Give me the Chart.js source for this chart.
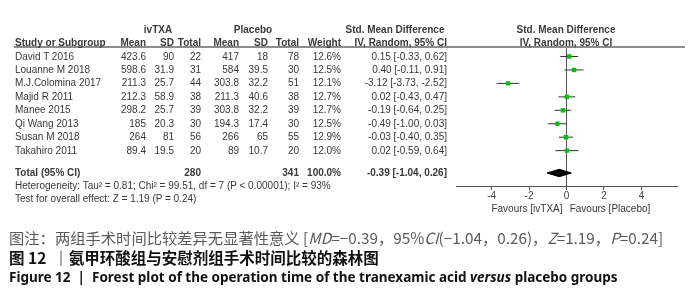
<!DOCTYPE html>
<html>
<head>
<meta charset="utf-8">
<script src="https://cdn.jsdelivr.net/npm/chart.js@4.4.1/dist/chart.umd.min.js"></script>
<style>
  html, body { margin: 0; padding: 0; background: #fff; }
  #wrap { position: relative; width: 700px; height: 296px; overflow: hidden; font-family: 'Liberation Sans', Arial, sans-serif; }
  #plot { position: absolute; left: 0; top: 0; }
  .t { position: absolute; white-space: nowrap; font-size: 10px; line-height: 12px; color: #383838; }
  .b { font-weight: bold; color: #3a3a3a; }
  .cap { position: absolute; left: 9px; white-space: nowrap; transform: translateY(-50%); }
  #hline { position: absolute; left: 14px; top: 46px; width: 671px; height: 2px; background: #8c8c8c; }
</style>
</head>
<body>
<div id="wrap">
  <canvas id="plot" width="700" height="222"></canvas>
  <div id="hline"></div>
  <div id="table"></div>
  <div class="cap" style="top:237px; font-size:15.3px; color:#5a5a5a; font-family:'Noto Sans CJK SC', 'Liberation Sans', sans-serif;">图注：两组手术时间比较差异无显著性意义 [<i>MD</i>=−0.39，95%<i>CI</i>(−1.04，0.26)，<i>Z</i>=1.19，<i>P</i>=0.24]</div>
  <div class="cap" style="top:257px; font-size:15.5px; font-weight:bold; color:#111; font-family:'Noto Sans CJK SC', sans-serif;">图 12 &nbsp;｜氨甲环酸组与安慰剂组手术时间比较的森林图</div>
  <div class="cap" style="top:277px; font-size:13.5px; font-weight:bold; color:#111; font-family:'Noto Sans', sans-serif;">Figure 12 &nbsp;|&nbsp; Forest plot of the operation time of the tranexamic acid <i>versus</i> placebo groups</div>
</div>
<script>
// 연구별 데이터
const studies = ['David T 2016', 'Louanne M 2018', 'M.J.Colomina 2017', 'Majid R  2011', 'Manee 2015', 'Qi Wang 2013', 'Susan M 2018', 'Takahiro 2011'];
const txaMean = [423.6, 598.6, 211.3, 212.3, 298.2, 185, 264, 89.4];
const txaSD = [90, 31.9, 25.7, 58.9, 25.7, 20.3, 81, 19.5];
const txaN = [22, 31, 44, 38, 39, 30, 56, 20];
const plaMean = [417, 584, 303.8, 211.3, 303.8, 194.3, 266, 89];
const plaSD = [18, 39.5, 32.2, 40.6, 32.2, 17.4, 65, 10.7];
const plaN = [78, 30, 51, 38, 39, 30, 55, 20];
const weights = [12.6, 12.5, 12.1, 12.7, 12.7, 12.5, 12.9, 12.0];
const smd = [0.15, 0.40, -3.12, 0.02, -0.19, -0.49, -0.03, 0.02];
const ciLow = [-0.33, -0.11, -3.73, -0.43, -0.64, -1.00, -0.40, -0.59];
const ciHigh = [0.62, 0.91, -2.52, 0.47, 0.25, 0.03, 0.35, 0.64];

// 합계 (Total)
const totalTxa = 280;
const totalPla = 341;
const totalSmd = -0.39;
const totalLow = -1.04;
const totalHigh = 0.26;

const xTicks = [-4, -2, 0, 2, 4];

// 레이아웃
const ROW0 = 56.5;    // 첫 행 y
const PITCH = 13.45;  // 행 간격
const AREA_TOP = 47;
const AREA_BOTTOM = 186;
const TOTAL_Y = 173;

const table = document.getElementById('table');

function addText(txt, x, y, align, bold) {
  const d = document.createElement('div');
  d.className = bold ? 't b' : 't';
  d.textContent = txt;
  d.style.top = y + 'px';
  if (align === 'right') {
    d.style.right = (700 - x) + 'px';
    d.style.transform = 'translateY(-50%)';
  } else if (align === 'center') {
    d.style.left = x + 'px';
    d.style.transform = 'translate(-50%, -50%)';
  } else {
    d.style.left = x + 'px';
    d.style.transform = 'translateY(-50%)';
  }
  table.appendChild(d);
}

// 컬럼 오른쪽 끝 위치
const COL = { mean1: 146, sd1: 174, n1: 201, mean2: 239, sd2: 268, n2: 299, w: 341, ci: 447 };
const f2 = v => v.toFixed(2);

// 헤더
addText('ivTXA', 158, 30, 'center', true);
addText('Placebo', 253, 30, 'center', true);
addText('Std. Mean Difference', 395, 30, 'center', true);
addText('Std. Mean Difference', 566, 30, 'center', true);
addText('Study or Subgroup', 15, 43, 'left', true);
addText('Mean', COL.mean1, 43, 'right', true);
addText('SD', COL.sd1, 43, 'right', true);
addText('Total', COL.n1, 43, 'right', true);
addText('Mean', COL.mean2, 43, 'right', true);
addText('SD', COL.sd2, 43, 'right', true);
addText('Total', COL.n2, 43, 'right', true);
addText('Weight', COL.w, 43, 'right', true);
addText('IV, Random, 95% CI', COL.ci, 43, 'right', true);
addText('IV, Random, 95% CI', 566, 43, 'center', true);

// 연구별 행
studies.forEach((name, i) => {
  const y = ROW0 + i * PITCH;
  addText(name, 15, y, 'left');
  addText(String(txaMean[i]), COL.mean1, y, 'right');
  addText(String(txaSD[i]), COL.sd1, y, 'right');
  addText(String(txaN[i]), COL.n1, y, 'right');
  addText(String(plaMean[i]), COL.mean2, y, 'right');
  addText(String(plaSD[i]), COL.sd2, y, 'right');
  addText(String(plaN[i]), COL.n2, y, 'right');
  addText(weights[i].toFixed(1) + '%', COL.w, y, 'right');
  addText(f2(smd[i]) + ' [' + f2(ciLow[i]) + ', ' + f2(ciHigh[i]) + ']', COL.ci, y, 'right');
});

// 합계 행
addText('Total (95% CI)', 15, TOTAL_Y, 'left', true);
addText(String(totalTxa), COL.n1, TOTAL_Y, 'right', true);
addText(String(totalPla), COL.n2, TOTAL_Y, 'right', true);
addText(weights.reduce((a, b) => a + b, 0).toFixed(1) + '%', COL.w, TOTAL_Y, 'right', true);
addText(f2(totalSmd) + ' [' + f2(totalLow) + ', ' + f2(totalHigh) + ']', COL.ci, TOTAL_Y, 'right', true);
addText('Heterogeneity: Tau\u00b2 = 0.81; Chi\u00b2 = 99.51, df = 7 (P < 0.00001); I\u00b2 = 93%', 15, 186, 'left');
addText('Test for overall effect: Z = 1.19 (P = 0.24)', 15, 199, 'left');
addText('Favours [ivTXA]', 527, 209, 'center');
addText('Favours [Placebo]', 610, 209, 'center');

// 행 번호 -> y 값 (선형 스케일)
const rowVal = px => (px - ROW0) / PITCH;
const yT = rowVal(TOTAL_Y);
const dh = 3.7 / PITCH;

const datasets = [];
// 효과크기 사각형
datasets.push({
  data: smd.map((v, i) => ({ x: v, y: i })),
  pointStyle: 'rect',
  pointRadius: weights.map(w => w / 4),
  backgroundColor: '#00c400',
  borderColor: '#00b000',
  borderWidth: 0,
  showLine: false
});
// 신뢰구간
studies.forEach((s, i) => {
  datasets.push({
    data: [{ x: ciLow[i], y: i }, { x: ciHigh[i], y: i }],
    showLine: true,
    borderColor: '#333',
    borderWidth: 1,
    pointRadius: 0
  });
});
// 합계 다이아몬드
datasets.push({
  data: [
    { x: totalLow, y: yT }, { x: totalSmd, y: yT - dh },
    { x: totalHigh, y: yT }, { x: totalSmd, y: yT + dh },
    { x: totalLow, y: yT }
  ],
  showLine: true,
  fill: 'shape',
  backgroundColor: '#000',
  borderColor: '#000',
  borderWidth: 1,
  pointRadius: 0,
  tension: 0
});

new Chart(document.getElementById('plot'), {
  type: 'scatter',
  data: { datasets: datasets },
  options: {
    responsive: false,
    animation: false,
    layout: { padding: { left: 456, right: 23, top: AREA_TOP, bottom: 222 - AREA_BOTTOM - 14 } },
    plugins: { legend: { display: false }, tooltip: { enabled: false } },
    scales: {
      x: {
        type: 'linear',
        min: -5.9,
        max: 5.9,
        afterBuildTicks: scale => { scale.ticks = xTicks.map(v => ({ value: v })); },
        afterFit: scale => { scale.height = 14; },
        ticks: { color: '#444', font: { size: 10, family: 'Liberation Sans' }, padding: 0, callback: v => String(v) },
        grid: {
          color: c => (c.tick && c.tick.value === 0 ? '#555' : 'rgba(0,0,0,0)'),
          tickColor: '#555',
          tickLength: 4,
          lineWidth: 1
        },
        border: { display: true, color: '#555', width: 1 }
      },
      y: {
        type: 'linear',
        display: false,
        reverse: true,
        min: rowVal(AREA_TOP),
        max: rowVal(AREA_BOTTOM)
      }
    }
  }
});
</script>
</body>
</html>
